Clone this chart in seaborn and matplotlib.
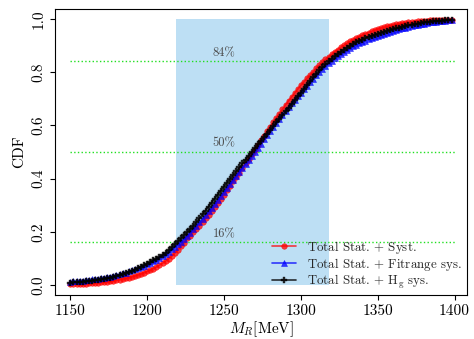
import numpy as np
import seaborn as sns
import matplotlib.pyplot as plt

# mass grid (MeV) and CDF values
m_r = np.arange(1150, 1400, 2)

cdf_syst = [
    0.003, 0.0035, 0.004, 0.0045, 0.005, 0.0055, 0.006, 0.007, 0.008, 0.009,
    0.010, 0.011, 0.012, 0.014, 0.016, 0.018, 0.020, 0.022, 0.025, 0.028,
    0.031, 0.034, 0.038, 0.042, 0.046, 0.051, 0.056, 0.062, 0.068, 0.075,
    0.082, 0.090, 0.099, 0.109, 0.120, 0.132, 0.145, 0.158, 0.175, 0.186,
    0.198, 0.211, 0.223, 0.237, 0.250, 0.264, 0.279, 0.294, 0.309, 0.324,
    0.340, 0.356, 0.372, 0.389, 0.406, 0.422, 0.440, 0.457, 0.474, 0.491,
    0.509, 0.526, 0.544, 0.561, 0.577, 0.594, 0.611, 0.628, 0.644, 0.660,
    0.676, 0.692, 0.706, 0.721, 0.736, 0.750, 0.763, 0.777, 0.789, 0.801,
    0.814, 0.825, 0.836, 0.847, 0.857, 0.866, 0.876, 0.884, 0.893, 0.900,
    0.908, 0.915, 0.921, 0.927, 0.933, 0.939, 0.944, 0.948, 0.953, 0.957,
    0.961, 0.965, 0.968, 0.971, 0.974, 0.976, 0.979, 0.981, 0.983, 0.984,
    0.986, 0.987, 0.989, 0.990, 0.991, 0.992, 0.993, 0.994, 0.994, 0.995,
    0.995, 0.996, 0.996, 0.997, 0.997,
]

cdf_fitrange = [
    0.013, 0.014, 0.015, 0.016, 0.017, 0.018, 0.019, 0.021, 0.022, 0.024,
    0.026, 0.028, 0.030, 0.032, 0.035, 0.038, 0.041, 0.044, 0.047, 0.051,
    0.055, 0.059, 0.064, 0.068, 0.073, 0.078, 0.084, 0.090, 0.096, 0.102,
    0.109, 0.117, 0.125, 0.134, 0.143, 0.153, 0.163, 0.174, 0.185, 0.197,
    0.209, 0.222, 0.235, 0.249, 0.263, 0.277, 0.291, 0.306, 0.321, 0.336,
    0.351, 0.366, 0.381, 0.396, 0.411, 0.426, 0.441, 0.456, 0.471, 0.486,
    0.501, 0.516, 0.531, 0.547, 0.562, 0.577, 0.593, 0.608, 0.623, 0.639,
    0.654, 0.668, 0.682, 0.696, 0.710, 0.723, 0.736, 0.749, 0.762, 0.775,
    0.788, 0.800, 0.811, 0.822, 0.832, 0.842, 0.851, 0.860, 0.868, 0.876,
    0.883, 0.890, 0.896, 0.902, 0.908, 0.913, 0.918, 0.923, 0.927, 0.931,
    0.935, 0.939, 0.943, 0.947, 0.951, 0.955, 0.958, 0.961, 0.964, 0.967,
    0.970, 0.973, 0.976, 0.978, 0.980, 0.982, 0.984, 0.986, 0.988, 0.989,
    0.991, 0.992, 0.993, 0.994, 0.995,
]

cdf_hg = [
    0.009, 0.010, 0.011, 0.012, 0.013, 0.014, 0.015, 0.017, 0.018, 0.020,
    0.022, 0.024, 0.026, 0.028, 0.031, 0.034, 0.037, 0.041, 0.045, 0.049,
    0.053, 0.058, 0.063, 0.069, 0.075, 0.081, 0.087, 0.093, 0.099, 0.106,
    0.113, 0.122, 0.132, 0.143, 0.154, 0.165, 0.176, 0.188, 0.199, 0.211,
    0.223, 0.237, 0.251, 0.265, 0.280, 0.295, 0.310, 0.325, 0.340, 0.355,
    0.370, 0.385, 0.399, 0.414, 0.428, 0.442, 0.457, 0.471, 0.485, 0.500,
    0.514, 0.528, 0.542, 0.556, 0.569, 0.583, 0.597, 0.611, 0.625, 0.638,
    0.652, 0.666, 0.680, 0.695, 0.709, 0.723, 0.738, 0.752, 0.766, 0.780,
    0.794, 0.806, 0.818, 0.829, 0.840, 0.850, 0.859, 0.868, 0.876, 0.884,
    0.891, 0.898, 0.905, 0.911, 0.917, 0.922, 0.927, 0.932, 0.936, 0.940,
    0.944, 0.948, 0.952, 0.955, 0.958, 0.961, 0.964, 0.967, 0.970, 0.973,
    0.976, 0.978, 0.980, 0.982, 0.984, 0.986, 0.988, 0.989, 0.990, 0.991,
    0.992, 0.993, 0.994, 0.995, 0.996,
]

# 68% band and quantile lines
band = (1219, 1318)
quantiles = [0.16, 0.50, 0.84]
quantile_labels = ['16%', '50%', '84%']

sns.set_style('ticks')
plt.rcParams['font.family'] = 'serif'
plt.rcParams['font.serif'] = ['cmr10']
plt.rcParams['mathtext.fontset'] = 'cm'
plt.rcParams['axes.unicode_minus'] = False
plt.rcParams['axes.edgecolor'] = 'black'
plt.rcParams['xtick.color'] = 'black'
plt.rcParams['ytick.color'] = 'black'
plt.rcParams['axes.labelcolor'] = 'black'

fig = plt.figure(figsize=(4.74, 3.39), dpi=100)
ax = fig.add_axes([0.116, 0.130, 0.869, 0.843])

ax.fill_between(band, 0, 1, color='#bddff4', lw=0, zorder=0)
ax.hlines(quantiles, 1150, 1400, colors='#22e022', linestyles=':', lw=1, zorder=1)
for q, lab in zip(quantiles, quantile_labels):
    ax.text(1250, q + 0.008, lab, ha='center', va='bottom', fontsize=9, color='#4a4a4a')

sns.lineplot(x=m_r, y=cdf_syst, ax=ax, color='red', marker='o', markersize=4,
             markeredgecolor='red', markeredgewidth=0.4, alpha=0.75, lw=1.2,
             label=r'Total Stat. $+$ Syst.')
sns.lineplot(x=m_r, y=cdf_fitrange, ax=ax, color='blue', marker='^', markersize=4.5,
             markeredgecolor='blue', markeredgewidth=0.4, alpha=0.75, lw=1.2,
             label=r'Total Stat. $+$ Fitrange sys.')
sns.lineplot(x=m_r, y=cdf_hg, ax=ax, color='black', marker='P', markersize=4,
             markeredgecolor='black', markeredgewidth=0.3, alpha=0.8, lw=1.2,
             label=r'Total Stat. $+$ H$_\mathrm{g}$ sys.')

ax.set_xlim(1140, 1408)
ax.set_ylim(-0.037, 1.036)
ax.set_xticks([1150, 1200, 1250, 1300, 1350, 1400])
ax.set_yticks([0.0, 0.2, 0.4, 0.6, 0.8, 1.0])
ax.set_yticklabels(['0.0', '0.2', '0.4', '0.6', '0.8', '1.0'], rotation=90, va='center')
ax.tick_params(labelsize=11)
ax.set_xlabel(r'$M_R$[MeV]', fontsize=11, labelpad=1)
ax.set_ylabel('CDF', fontsize=11, labelpad=4)

ax.legend(loc='lower left', frameon=False, fontsize=9.3, handlelength=1.9,
          handletextpad=0.8, borderaxespad=0.0, borderpad=0.2, labelspacing=0.0,
          bbox_to_anchor=(0.52, 0.006))

fig.savefig('out.png', dpi=100)
